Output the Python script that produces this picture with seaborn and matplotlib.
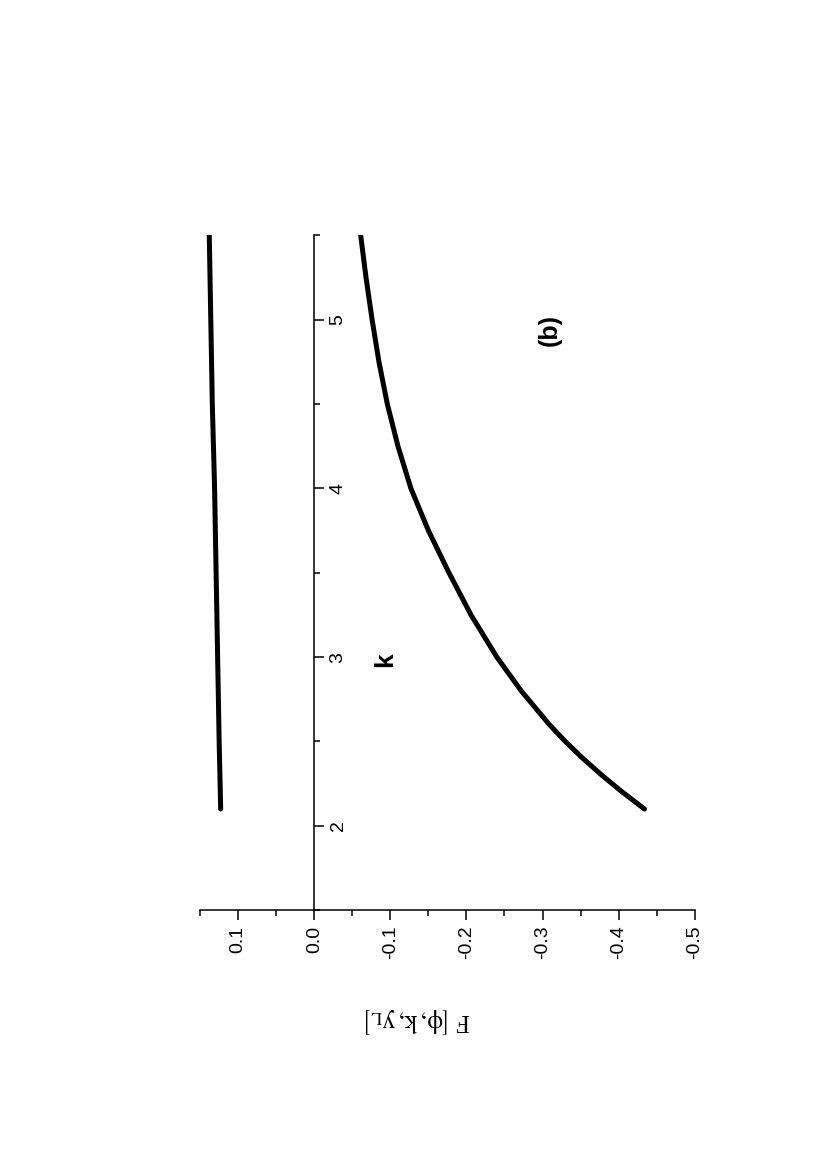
import numpy as np
import pandas as pd
import seaborn as sns
import matplotlib.pyplot as plt
from matplotlib.ticker import MultipleLocator, FuncFormatter

k_upper = [2.1, 2.5, 3.0, 3.5, 4.0, 4.5, 5.0, 5.5]
F_upper = [0.123, 0.125, 0.127, 0.129, 0.131, 0.134, 0.136, 0.138]

k_lower = [2.1, 2.2, 2.3, 2.4, 2.5, 2.6, 2.8, 3.0, 3.25, 3.5, 3.75, 4.0,
           4.25, 4.5, 4.75, 5.0, 5.25, 5.5]
F_lower = [-0.434, -0.405, -0.378, -0.353, -0.330, -0.309, -0.272, -0.240,
           -0.206, -0.177, -0.150, -0.127, -0.110, -0.096, -0.085, -0.076,
           -0.068, -0.061]

sns.set_style("white")
plt.rcParams['font.family'] = ['Liberation Sans', 'DejaVu Sans']
plt.rcParams['text.color'] = 'black'
plt.rcParams['mathtext.fontset'] = 'stix'

fig = plt.figure(figsize=(8.27, 11.7), dpi=100)
ax = fig.add_axes([0.242, 0.222, 0.598, 0.577])

up = pd.DataFrame({'k': k_upper, 'F': F_upper})
lo = pd.DataFrame({'k': k_lower, 'F': F_lower})
sns.lineplot(data=up, x='F', y='k', sort=False, estimator=None, color='black',
             lw=3.6, solid_capstyle='round', solid_joinstyle='round', ax=ax)
sns.lineplot(data=lo, x='F', y='k', sort=False, estimator=None, color='black',
             lw=3.6, solid_capstyle='round', solid_joinstyle='round', ax=ax)

ax.set_xlim(0.15, -0.5)
ax.set_ylim(1.5, 5.5)

# axes drawn like the rotated Origin plot
for s in ['top', 'left']:
    ax.spines[s].set_visible(False)
ax.spines['right'].set_position(('data', 0))
for s in ['right', 'bottom']:
    ax.spines[s].set_color('black')
    ax.spines[s].set_linewidth(1.1)
ax.yaxis.tick_right()
ax.xaxis.tick_bottom()

ax.xaxis.set_major_locator(MultipleLocator(0.1))
ax.xaxis.set_minor_locator(MultipleLocator(0.05))
ax.yaxis.set_major_locator(MultipleLocator(1))
ax.yaxis.set_minor_locator(MultipleLocator(0.5))
ax.xaxis.set_major_formatter(FuncFormatter(lambda v, p: f"{v:.1f}" if abs(v) > 1e-9 else "0.0"))
ax.yaxis.set_major_formatter(FuncFormatter(lambda v, p: f"{v:.0f}"))

ax.tick_params(which='major', direction='out', length=7, width=1.1, color='black',
               labelsize=14, labelcolor='black', pad=4)
ax.tick_params(which='minor', direction='out', length=4, width=1.1, color='black')
ax.tick_params(axis='x', which='both', bottom=True)
ax.tick_params(axis='y', which='both', right=True, left=False)
for t in ax.get_xticklabels():
    t.set_rotation(90)
    t.set_va('top')
    t.set_ha('center')
for t in ax.get_yticklabels():
    t.set_rotation(90)
    t.set_va('center')
    t.set_ha('left')

ax.set_xlabel('')
ax.set_ylabel('')

# axis titles, rotated like the page
fig.text(385 / 827, 1 - 660 / 1170, 'k', rotation=90, fontsize=19, fontweight='bold',
         ha='center', va='center', color='black')
fig.text(550 / 827, 1 - 330 / 1170, '(b)', rotation=90, fontsize=18, fontweight='bold',
         ha='center', va='center', color='black')
fig.text(418 / 827, 1 - 1020 / 1170, 'F $\\left[\\mathrm{\\phi,k,y_L}\\right]$', rotation=180,
         fontsize=18, family=['Liberation Serif', 'DejaVu Serif'], ha='center', va='center',
         color='black')

fig.savefig('out.png', dpi=100, facecolor='white')
